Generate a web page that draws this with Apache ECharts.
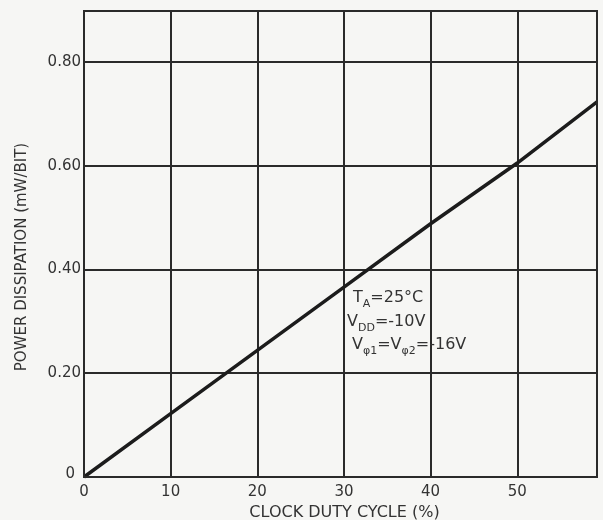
<!DOCTYPE html>
<html>
<head>
<meta charset="utf-8">
<script src="https://cdn.jsdelivr.net/npm/echarts@6/dist/echarts.min.js"></script>
<style>
html,body{margin:0;padding:0;background:#f6f6f4;}
#c{width:603px;height:520px;}
</style>
</head>
<body>
<div id="c"></div>
<script>
// Data
var dutyCycle = [0, 10, 20, 30, 40, 50, 59.2];
var powerDissipation = [0, 0.122, 0.244, 0.366, 0.488, 0.605, 0.723];
var xTickLabels = ['0', '10', '20', '30', '40', '50'];
var yTickLabels = ['0', '0.20', '0.40', '0.60', '0.80'];
var xTitle = 'CLOCK DUTY CYCLE (%)';
var yTitle = 'POWER DISSIPATION (mW/BIT)';
var noteLines = [
  'T{s|A}=25°C',
  'V{s|DD}=-10V',
  'V{s|φ1}=V{s|φ2}=-16V'
];

var FONT = 'DejaVu Sans';
var INK = '#2a2a2a';
var TXT = '#333333';
var chart = echarts.init(document.getElementById('c'), null, {renderer: 'canvas'});

var lineData = dutyCycle.map(function (x, i) { return [x, powerDissipation[i]]; });

var noteRich = {
  s: {fontFamily: FONT, fontSize: 11, color: TXT, verticalAlign: 'bottom', lineHeight: 24}
};

chart.setOption({
  backgroundColor: '#f6f6f4',
  animation: false,
  grid: {left: 84, right: 6, top: 11, bottom: 43, containLabel: false, outerBoundsMode: 'none'},
  xAxis: {
    type: 'value', min: 0, max: 59.2, interval: 10,
    name: xTitle, nameLocation: 'middle', nameGap: 27,
    nameTextStyle: {fontFamily: FONT, fontSize: 16, color: TXT, padding: [0,0,0,8]},
    axisLine: {show: true, onZero: false, lineStyle: {color: INK, width: 2}},
    axisTick: {show: false},
    axisLabel: {
      fontFamily: FONT, fontSize: 15, color: TXT, margin: 8, showMaxLabel: false,
      formatter: function (v) {
        var i = Math.round(v / 10);
        return (Math.abs(v - i * 10) < 1e-6 && xTickLabels[i] !== undefined) ? xTickLabels[i] : '';
      }
    },
    splitLine: {show: true, lineStyle: {color: INK, width: 2}}
  },
  yAxis: {
    type: 'value', min: 0, max: 0.898, interval: 0.2,
    name: yTitle, nameLocation: 'middle', nameGap: 54,
    nameTextStyle: {fontFamily: FONT, fontSize: 15, color: TXT, padding: [0, 26, 0, 0]},
    axisLine: {show: true, onZero: false, lineStyle: {color: INK, width: 2}},
    axisTick: {show: false},
    axisLabel: {
      fontFamily: FONT, fontSize: 15, color: TXT, margin: 3, showMaxLabel: false,
      formatter: function (v) {
        var i = Math.round(v / 0.2);
        if (Math.abs(v - i * 0.2) > 1e-6 || yTickLabels[i] === undefined) return '';
        return i === 0 ? '{z|' + yTickLabels[0] + '}' : yTickLabels[i];
      },
      rich: {z: {fontFamily: FONT, fontSize: 15, color: TXT, padding: [0, 6, 6, 0]}}
    },
    splitLine: {show: true, lineStyle: {color: INK, width: 2}}
  },
  series: [{
    type: 'line', data: lineData, showSymbol: false, symbol: 'none',
    lineStyle: {color: '#1c1c1c', width: 3.5}, clip: true, z: 5
  }],
  graphic: [
    {type: 'rect', shape: {x: 84, y: 11, width: 513, height: 466},
     style: {fill: 'none', stroke: INK, lineWidth: 2}, silent: true, z: 10},
    {type: 'text', x: 353, y: 286, z: 20,
     style: {text: noteLines[0], fontFamily: FONT, fontSize: 16, fill: TXT, lineHeight: 24, rich: noteRich}},
    {type: 'text', x: 347, y: 310, z: 20,
     style: {text: noteLines[1], fontFamily: FONT, fontSize: 16, fill: TXT, lineHeight: 24, rich: noteRich}},
    {type: 'text', x: 352, y: 333, z: 20,
     style: {text: noteLines[2], fontFamily: FONT, fontSize: 16, fill: TXT, lineHeight: 24, rich: noteRich}}
  ]
});
</script>
</body>
</html>
